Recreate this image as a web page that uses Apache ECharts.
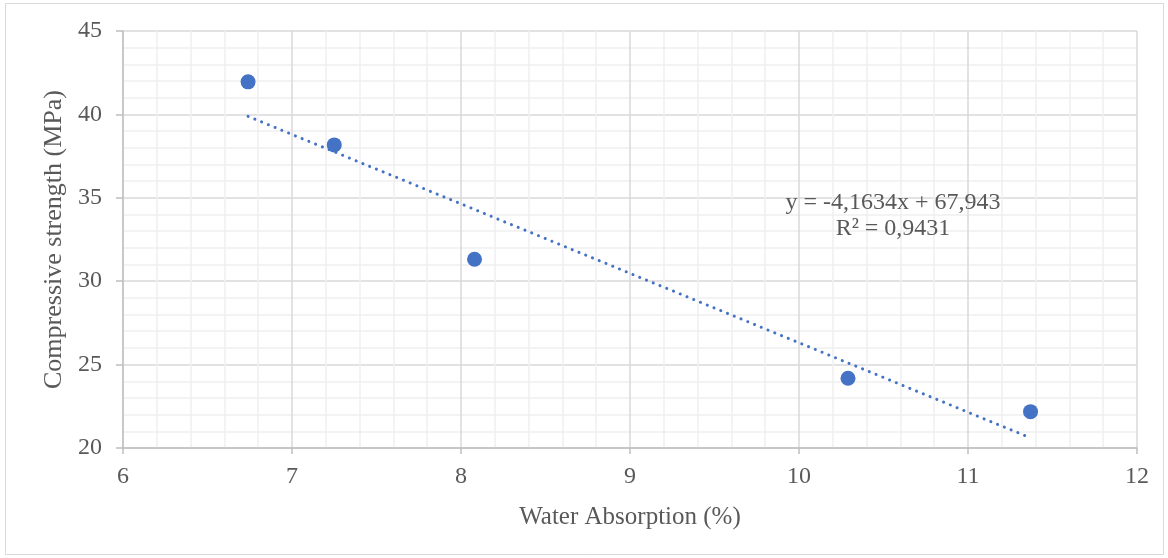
<!DOCTYPE html>
<html>
<head>
<meta charset="utf-8">
<script src="https://cdn.jsdelivr.net/npm/echarts@6/dist/echarts.min.js"></script>
<style>
  html, body { margin: 0; padding: 0; background: #fff; }
  #chart { width: 1168px; height: 558px; }
</style>
</head>
<body>
<div id="chart"></div>
<script>
// water absorption (%) vs compressive strength (MPa)
const absorption = [6.74, 7.25, 8.08, 10.29, 11.37];
const strength = [41.95, 38.17, 31.32, 24.18, 22.18];

// trendline as printed on the chart
const slope = -4.1634;
const intercept = 67.943;
const eqLines = ['y = -4,1634x + 67,943', 'R² = 0,9431'];

const points = absorption.map((x, i) => [x, strength[i]]);
const xMin = Math.min(...absorption), xMax = Math.max(...absorption);
const trend = [[xMin, slope * xMin + intercept], [xMax, slope * xMax + intercept]];

const font = '"Liberation Serif", "Times New Roman", serif';
const txt = '#595959';

const chart = echarts.init(document.getElementById('chart'));
chart.setOption({
  animation: false,
  grid: { left: 123, right: 31, top: 31, bottom: 110 },
  xAxis: {
    type: 'value', min: 6, max: 12, interval: 1,
    name: 'Water Absorption (%)', nameLocation: 'middle', nameGap: 57,
    nameTextStyle: { fontFamily: font, fontSize: 25, color: txt },
    axisLine: { lineStyle: { color: '#bfbfbf', width: 1.5 } },
    axisTick: { show: true, length: 6, lineStyle: { color: '#bfbfbf', width: 1.5 } },
    axisLabel: { fontFamily: font, fontSize: 24, color: txt, margin: 17 },
    splitLine: { lineStyle: { color: '#d9d9d9', width: 1.5 } },
    minorTick: { show: false, splitNumber: 5 },
    minorSplitLine: { show: true, lineStyle: { color: '#efefef', width: 1.5 } }
  },
  yAxis: {
    type: 'value', min: 20, max: 45, interval: 5,
    name: 'Compressive strength (MPa)', nameLocation: 'middle', nameGap: 53, nameRotate: 90,
    nameTextStyle: { fontFamily: font, fontSize: 26, color: txt },
    axisLine: { show: true, lineStyle: { color: '#bfbfbf', width: 1.5 } },
    axisTick: { show: true, length: 7, lineStyle: { color: '#bfbfbf', width: 1.5 } },
    axisLabel: { fontFamily: font, fontSize: 24, color: txt, margin: 21 },
    splitLine: { lineStyle: { color: '#d9d9d9', width: 1.5 } },
    minorTick: { show: false, splitNumber: 5 },
    minorSplitLine: { show: true, lineStyle: { color: '#efefef', width: 1.5 } }
  },
  graphic: [
    { type: 'rect', shape: { x: 5.5, y: 3.5, width: 1158, height: 551 },
      style: { fill: 'none', stroke: '#d9d9d9', lineWidth: 1 }, silent: true, z: -1 },
    { type: 'text', x: 893, y: 203, z: 10, style: { text: eqLines[0], font: '24px ' + font, fill: txt, align: 'center', verticalAlign: 'middle' } },
    { type: 'text', x: 893, y: 229, z: 10, style: { text: eqLines[1], font: '24px ' + font, fill: txt, align: 'center', verticalAlign: 'middle' } }
  ],
  series: [
    {
      type: 'line', data: trend, symbol: 'none', silent: true,
      lineStyle: { color: '#4472C4', width: 3, type: [0.1, 7.2], cap: 'round' }
    },
    {
      type: 'scatter', data: points, symbolSize: 15,
      itemStyle: { color: '#4472C4', opacity: 1 }
    }
  ]
});
</script>
</body>
</html>
